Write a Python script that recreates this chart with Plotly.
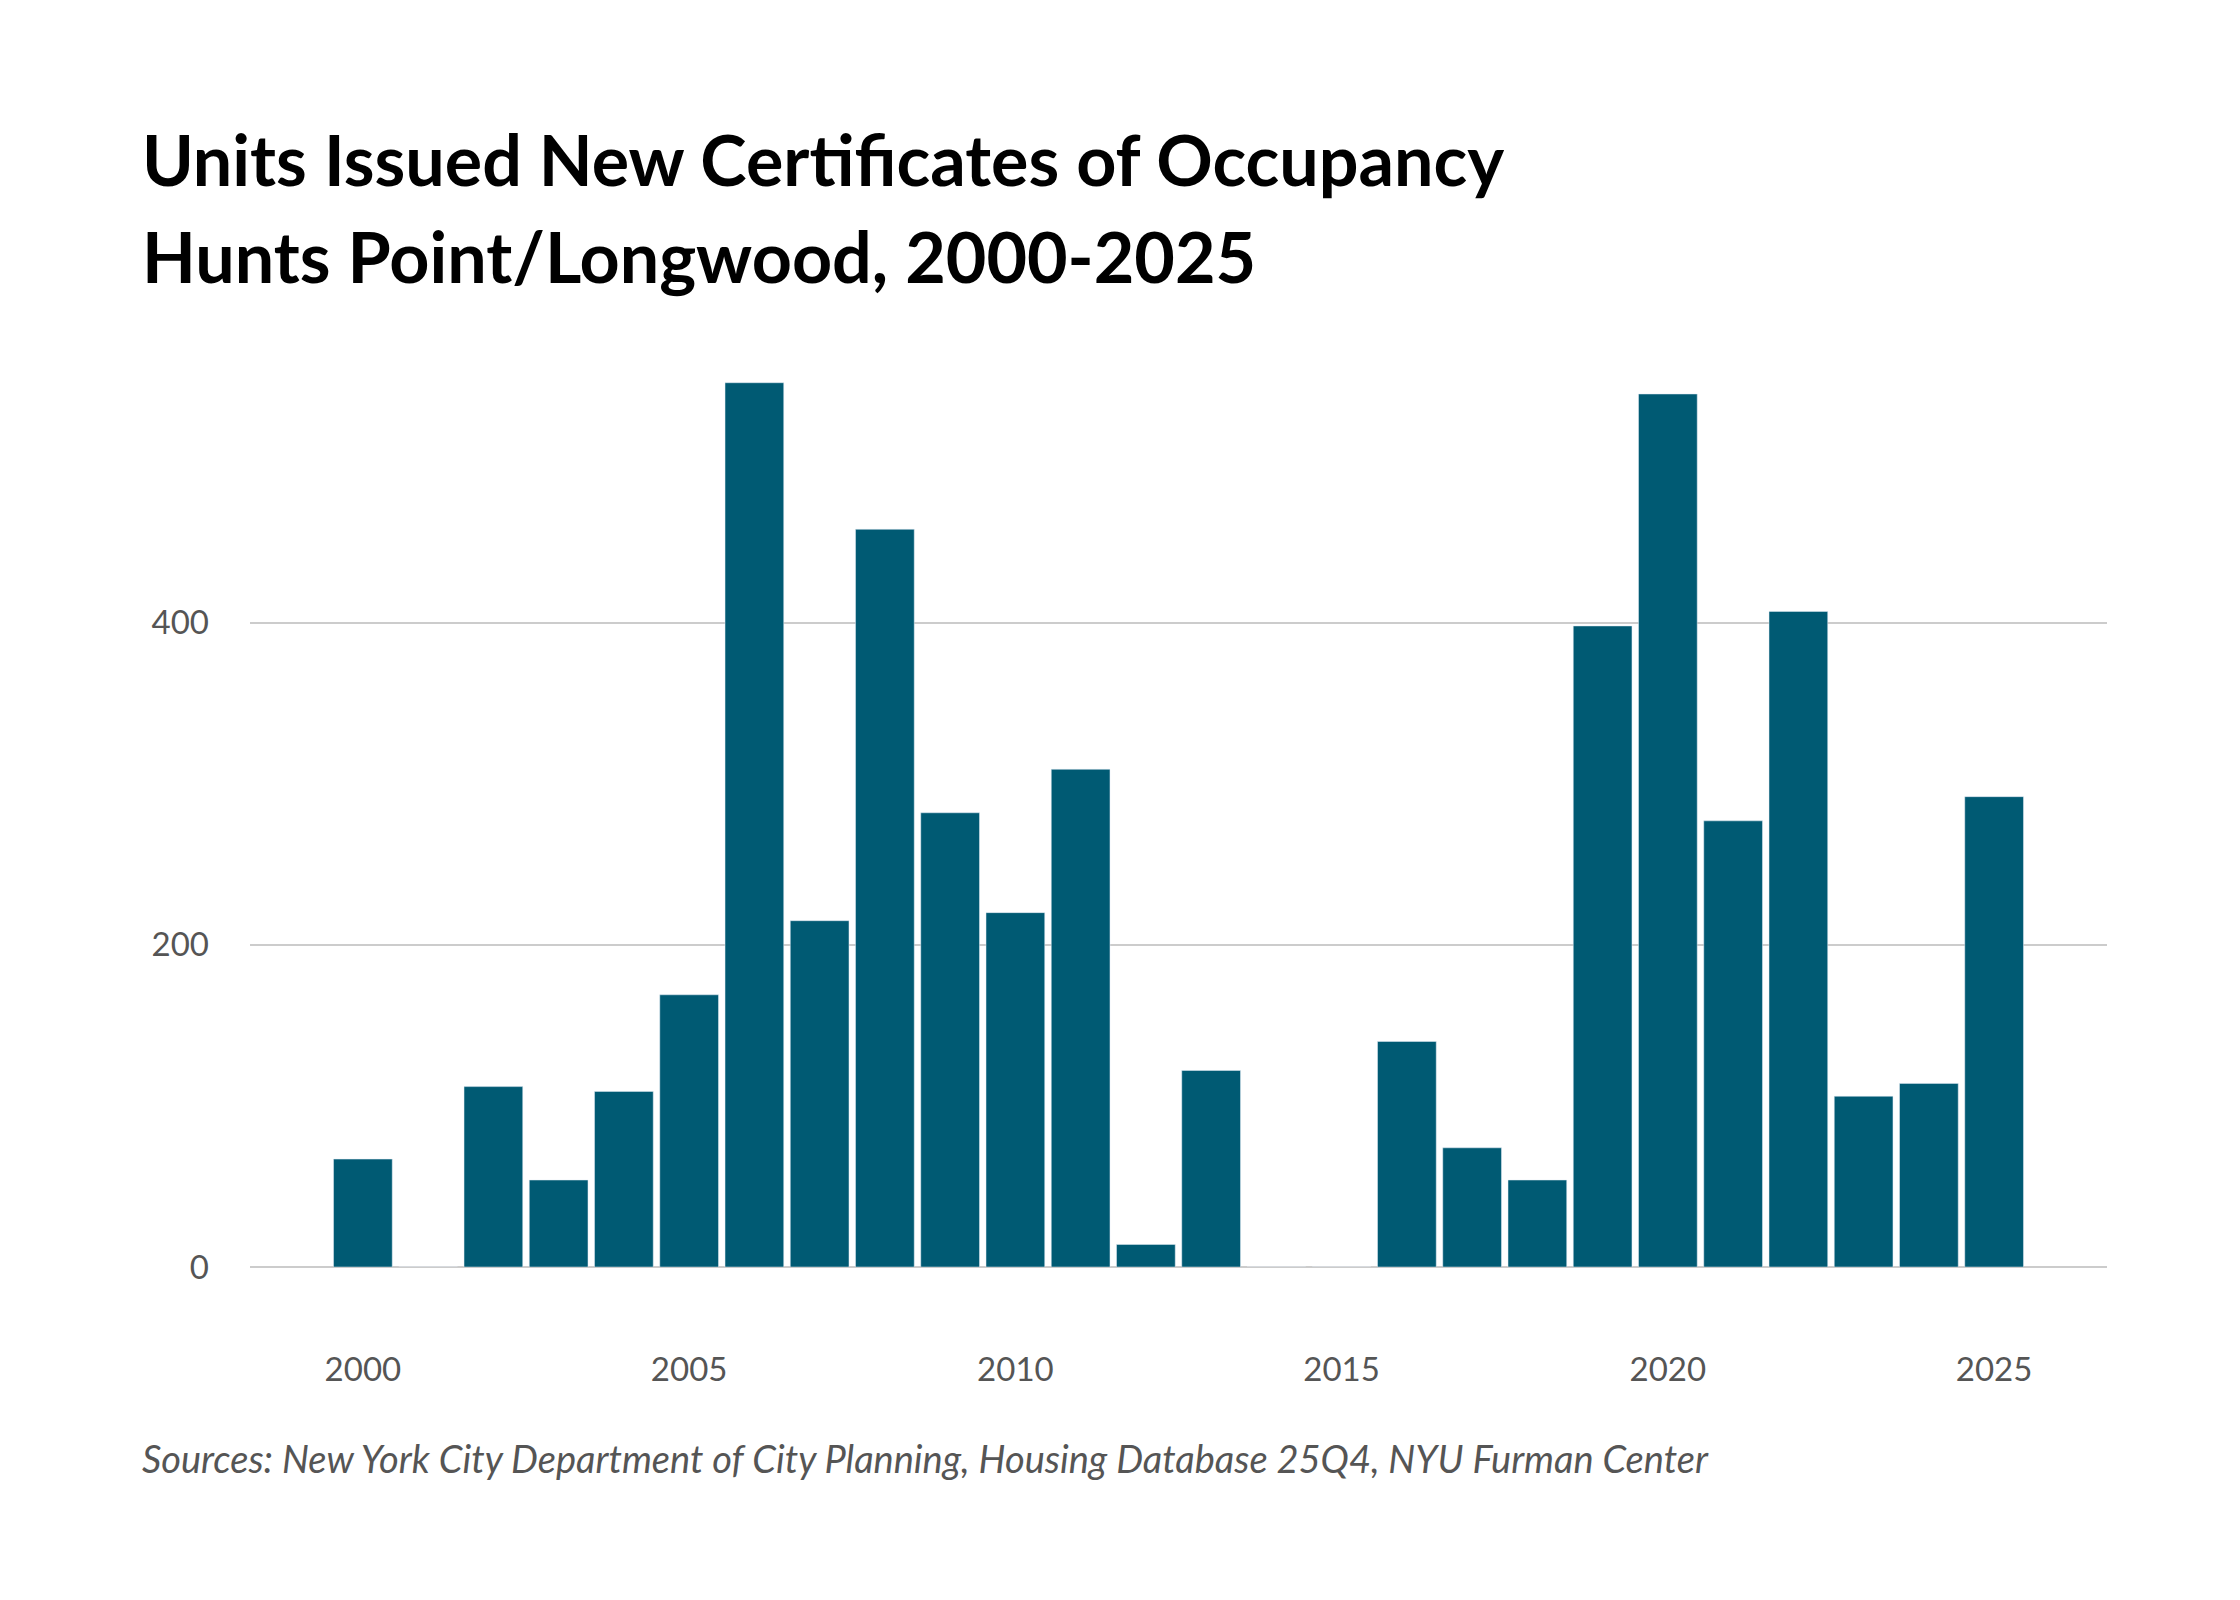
import plotly.graph_objects as go

years = list(range(2000, 2026))
units = [67, 0, 112, 54, 109, 169, 549, 215, 458, 282, 220, 309, 14, 122,
         0, 0, 140, 74, 54, 398, 542, 277, 407, 106, 114, 292]

fig = go.Figure()
fig.add_trace(go.Bar(x=years, y=units, marker_color="#005a73", width=0.9))

fig.update_layout(
    width=2240, height=1600,
    paper_bgcolor="white", plot_bgcolor="white",
    margin=dict(l=242, r=141, t=357, b=341),
    showlegend=False,
    font=dict(family="Lato", color="#555555"),
)
fig.update_xaxes(range=[1998.27, 2026.73], tickvals=[2000, 2005, 2010, 2015, 2020, 2025],
                 tickfont=dict(size=33), ticklabelstandoff=80, showgrid=False, showline=False)
fig.update_yaxes(range=[0, 560], tickvals=[0, 200, 400], tickfont=dict(size=33),
                 gridcolor="#cccccc", gridwidth=2, zeroline=True, zerolinecolor="#cccccc",
                 zerolinewidth=2, ticklabelstandoff=40)

fig.add_annotation(text="<b>Units Issued New Certificates of Occupancy</b>", xref="paper", yref="paper",
                   x=0, xshift=-110, y=1, yshift=357 - 195, xanchor="left", yanchor="bottom",
                   showarrow=False, font=dict(size=70, color="#000000", family="Lato"))
fig.add_annotation(text="<b>Hunts Point/Longwood, 2000-2025</b>", xref="paper", yref="paper",
                   x=0, xshift=-110, y=1, yshift=357 - 292, xanchor="left", yanchor="bottom",
                   showarrow=False, font=dict(size=70, color="#000000", family="Lato"))
fig.add_annotation(text="<i>Sources: New York City Department of City Planning, Housing Database 25Q4, NYU Furman Center</i>",
                   xref="paper", yref="paper", x=0, xshift=-110, y=0, yshift=-(1450 - 1259),
                   xanchor="left", yanchor="middle", showarrow=False,
                   font=dict(size=38, color="#555555", family="Lato"))

fig.write_html("out.html")
